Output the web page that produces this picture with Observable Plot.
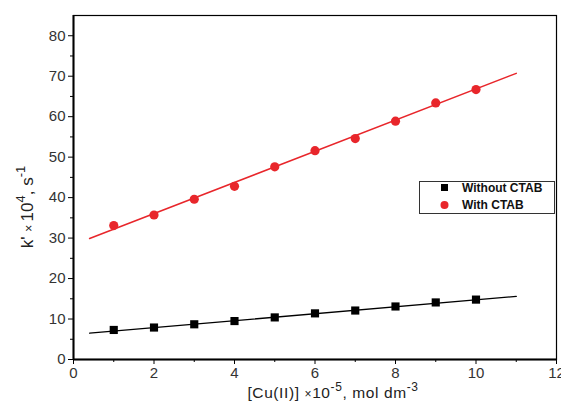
<!DOCTYPE html>
<html><head><meta charset="utf-8">
<script src="https://cdn.jsdelivr.net/npm/d3@7"></script>
<script src="https://cdn.jsdelivr.net/npm/@observablehq/plot@0.6"></script>
<style>body{margin:0;background:#fff}svg{display:block}</style>
</head><body><div id="chart"></div>
<script>
const conc = [1,2,3,4,5,6,7,8,9,10];
const without = [7.3,7.9,8.7,9.5,10.4,11.4,12.1,13.1,14.1,14.8];
const withC = [33.1,35.7,39.6,42.8,47.6,51.6,54.6,58.9,63.4,66.7];
const fitX = [0.4, 11];
const fitWithout = [6.5, 15.6];
const fitWith = [29.9, 70.7];
const xTicks = [0,2,4,6,8,10,12];
const yTicks = [0,10,20,30,40,50,60,70,80];

const ptsW = conc.map((x,i)=>({x, y: without[i]}));
const ptsC = conc.map((x,i)=>({x, y: withC[i]}));
const lineW = fitX.map((x,i)=>({x, y: fitWithout[i]}));
const lineC = fitX.map((x,i)=>({x, y: fitWith[i]}));
const red = "#e8262b";

const plot = Plot.plot({
  width: 561, height: 406,
  marginLeft: 73, marginRight: 5, marginTop: 15, marginBottom: 47,
  style: {fontFamily: "Liberation Sans, Arial, sans-serif", fontSize: "15px", color: "#333"},
  x: {domain: [0,12], label: null},
  y: {domain: [0,85], label: null},
  marks: [
    Plot.frame({stroke: "#000", strokeWidth: 1.2}),
    Plot.axisX({ticks: xTicks, tickSize: 5, tickPadding: 3, fill: "#333", stroke: "#000"}),
    Plot.axisX({ticks: d3.range(1,12,2), tickSize: 3, text: null, stroke: "#000"}),
    Plot.axisY({ticks: yTicks, tickSize: 5, tickPadding: 3, fill: "#333", stroke: "#000"}),
    Plot.axisY({ticks: d3.range(5,85,10), tickSize: 3, text: null, stroke: "#000"}),
    Plot.ruleY([0], {stroke: "#000", strokeWidth: 2}),
    Plot.ruleX([0], {stroke: "#000", strokeWidth: 2}),
    Plot.line(lineW, {x: "x", y: "y", stroke: "#000", strokeWidth: 1.3}),
    Plot.line(lineC, {x: "x", y: "y", stroke: red, strokeWidth: 1.5}),
    Plot.dot(ptsW, {x: "x", y: "y", symbol: "square", r: 4.6, fill: "#000"}),
    Plot.dot(ptsC, {x: "x", y: "y", r: 4.6, fill: red})
  ]
});
document.getElementById("chart").append(plot);

const svg = d3.select(plot);
const font = "Liberation Sans, Arial, sans-serif";
// y label
const yl = svg.append("text").attr("transform", "translate(33,207) rotate(-90)")
  .attr("text-anchor", "middle").attr("font-family", font).attr("font-size", 17).attr("fill", "#222");
yl.append("tspan").text("k' ");
yl.append("tspan").attr("font-size", 12).text("× ");
yl.append("tspan").text("10");
yl.append("tspan").attr("dy", -8).attr("font-size", 13).text("4");
yl.append("tspan").attr("dy", 8).text(", s");
yl.append("tspan").attr("dy", -8).attr("font-size", 13).text("-1");
// x label
const xl = svg.append("text").attr("x", 333).attr("y", 398)
  .attr("text-anchor", "middle").attr("font-family", font).attr("font-size", 15.5).attr("fill", "#222")
  .attr("letter-spacing", 0.6);
xl.append("tspan").text("[Cu(II)] ");
xl.append("tspan").attr("font-size", 12).text("×");
xl.append("tspan").text("10");
xl.append("tspan").attr("dy", -7).attr("font-size", 12).text("-5");
xl.append("tspan").attr("dy", 7).text(", mol dm");
xl.append("tspan").attr("dy", -7).attr("font-size", 12).text("-3");
// legend
const lg = svg.append("g").attr("text-anchor", "start");
lg.append("rect").attr("x", 419.5).attr("y", 181.5).attr("width", 135).attr("height", 32)
  .attr("fill", "#fff").attr("stroke", "#333").attr("stroke-width", 1);
lg.append("rect").attr("x", 441).attr("y", 184).attr("width", 7).attr("height", 7).attr("fill", "#000");
lg.append("circle").attr("cx", 444.5).attr("cy", 205).attr("r", 4).attr("fill", red);
lg.append("text").attr("x", 462).attr("y", 192).attr("text-anchor", "start").attr("font-family", font).attr("font-weight", "bold")
  .attr("font-size", 12).attr("fill", "#111").text("Without CTAB");
lg.append("text").attr("x", 462).attr("y", 209).attr("text-anchor", "start").attr("font-family", font).attr("font-weight", "bold")
  .attr("font-size", 12).attr("fill", "#111").text("With CTAB");
</script>
</body></html>
